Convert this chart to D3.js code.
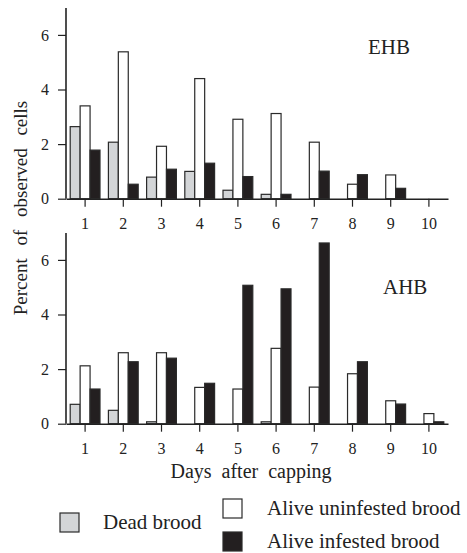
<!DOCTYPE html>
<html>
<head>
<meta charset="utf-8">
<script src="https://cdn.jsdelivr.net/npm/d3@7"></script>
<style>
  body { margin: 0; background: #fff; }
  svg { display: block; }
  text { font-family: "Liberation Serif", "Times New Roman", serif; fill: #222; }
</style>
</head>
<body>
<div id="chart"></div>
<script>
var days = [1, 2, 3, 4, 5, 6, 7, 8, 9, 10]
var series = ["Dead brood", "Alive uninfested brood", "Alive infested brood"]
var yTicks = [0, 2, 4, 6]

// EHB panel
var ehbDead   = [2.64, 2.07, 0.79, 1.00, 0.31, 0.16, 0, 0, 0, 0]
var ehbUninf  = [3.40, 5.38, 1.92, 4.40, 2.91, 3.12, 2.07, 0.53, 0.87, 0]
var ehbInf    = [1.78, 0.53, 1.08, 1.30, 0.81, 0.16, 1.01, 0.88, 0.38, 0]
// AHB panel
var ahbDead   = [0.71, 0.49, 0.07, 0, 0, 0.07, 0, 0, 0, 0]
var ahbUninf  = [2.12, 2.60, 2.60, 1.33, 1.27, 2.76, 1.34, 1.83, 0.84, 0.37]
var ahbInf    = [1.27, 2.27, 2.40, 1.48, 5.07, 4.94, 6.62, 2.27, 0.72, 0.07]

var fills = d3.scaleOrdinal()
  .domain(series)
  .range(["#d3d5d7", "#ffffff", "#231f20"])

var W = 467, H = 553
var left = 66, right = 448

var svg = d3.select("#chart").append("svg")
  .attr("width", W)
  .attr("height", H)

var x0 = d3.scaleBand()
  .domain(days)
  .range([left, right])
  .paddingInner(0.22)
  .paddingOuter(0.11)

var x1 = d3.scaleBand()
  .domain(series)
  .range([0, x0.bandwidth()])

var panels = [
  { name: "EHB", top: 8, bottom: 198.7, vals: [ehbDead, ehbUninf, ehbInf], lx: 368, ly: 54 },
  { name: "AHB", top: 233, bottom: 423.7, vals: [ahbDead, ahbUninf, ahbInf], lx: 383, ly: 294 }
]

panels.forEach(function (p) {
  var y = d3.scaleLinear()
    .domain([0, 7])
    .range([p.bottom, p.bottom - 7 * 27.3])

  var rows = days.map(function (d, i) {
    return { day: d, v: series.map(function (s, k) { return { s: s, v: p.vals[k][i] } }) }
  })

  var g = svg.append("g")

  g.selectAll(".grp")
    .data(rows)
    .enter().append("g")
    .attr("transform", d => "translate(" + x0(d.day) + ",0)")
    .selectAll("rect")
    .data(d => d.v.filter(e => e.v > 0))
    .enter().append("rect")
    .attr("x", d => x1(d.s))
    .attr("y", d => y(d.v))
    .attr("width", x1.bandwidth())
    .attr("height", d => y(0) - y(d.v))
    .style("fill", d => fills(d.s))
    .style("stroke", "#2a2a2a")
    .style("stroke-width", 1.2)

  var ya = g.append("g")
    .attr("transform", "translate(" + left + ",0)")
    .call(d3.axisLeft(y).tickValues(yTicks).tickFormat(d3.format("d"))
      .tickSize(8).tickSizeOuter(0).tickPadding(9))
  ya.select(".domain").attr("d", "M0," + y(0) + "V" + p.top)

  var xa = g.append("g")
    .attr("transform", "translate(0," + p.bottom + ")")
    .call(d3.axisBottom(x0).tickSize(8).tickSizeOuter(0).tickPadding(11))

  g.selectAll(".domain").style("stroke", "#222").style("stroke-width", 1.6)
  g.selectAll(".tick line").style("stroke", "#222").style("stroke-width", 1.2)
  g.selectAll(".tick text")
    .style("font-family", "Liberation Serif, serif")
    .style("font-size", "16px")
    .style("fill", "#222")

  g.append("text")
    .attr("x", p.lx)
    .attr("y", p.ly)
    .style("font-size", "21px")
    .text(p.name)
})

svg.append("text")
  .attr("x", 251)
  .attr("y", 478)
  .attr("text-anchor", "middle")
  .style("font-size", "20px")
  .style("word-spacing", "5px")
  .text("Days after capping")

svg.append("text")
  .attr("transform", "translate(27,208) rotate(-90)")
  .attr("text-anchor", "middle")
  .style("font-size", "19px")
  .style("word-spacing", "8px")
  .text("Percent of observed cells")

// legend
var legend = [
  { s: series[0], bx: 60, by: 513, tx: 103, ty: 529 },
  { s: series[1], bx: 223, by: 499, tx: 267, ty: 515 },
  { s: series[2], bx: 223, by: 532, tx: 267, ty: 548 }
]

var lg = svg.selectAll(".legend")
  .data(legend)
  .enter().append("g")
  .attr("class", "legend")

lg.append("rect")
  .attr("x", d => d.bx)
  .attr("y", d => d.by)
  .attr("width", 19)
  .attr("height", 19)
  .style("fill", d => fills(d.s))
  .style("stroke", "#2a2a2a")
  .style("stroke-width", 1.2)

lg.append("text")
  .attr("x", d => d.tx)
  .attr("y", d => d.ty)
  .style("font-size", "21px")
  .text(d => d.s)
</script>
</body>
</html>
